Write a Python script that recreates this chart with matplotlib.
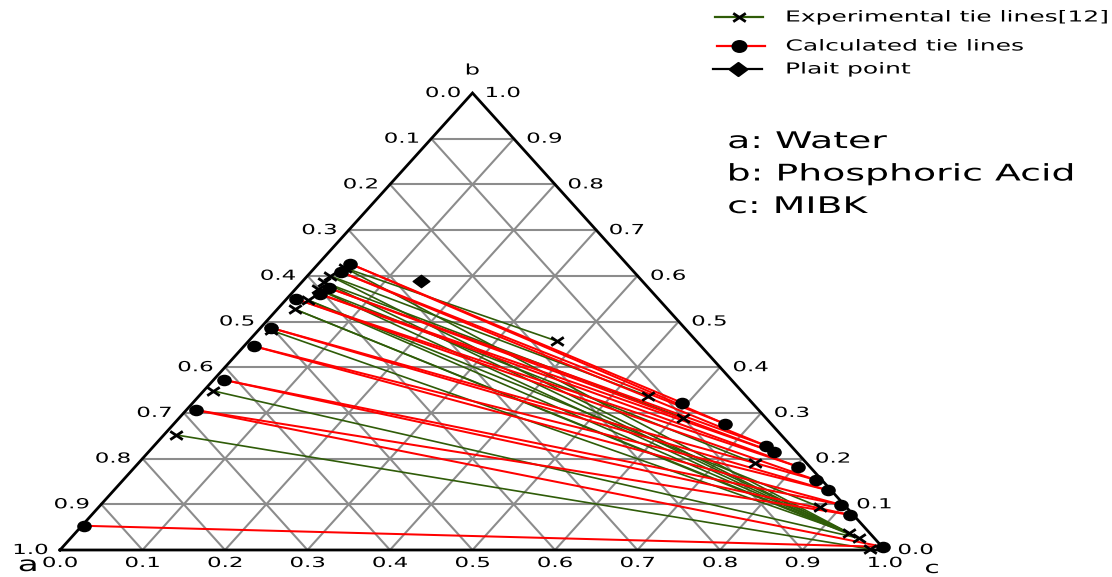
import numpy as np
import matplotlib
matplotlib.use('Agg')
import matplotlib.pyplot as plt
from matplotlib.lines import Line2D
from matplotlib.path import Path
from matplotlib.patheffects import AbstractPathEffect
from matplotlib.transforms import Affine2D

plt.rcParams['font.family'] = ['DejaVu Sans']

# compositions as mass fractions: acid = b (phosphoric acid), mibk = c, water a = 1 - b - c
# calculated tie lines, raffinate (water rich) and extract (MIBK rich) ends
calc_raff_acid = [0.626, 0.608, 0.573, 0.560, 0.549, 0.486, 0.446, 0.372, 0.306, 0.053]
calc_raff_mibk = [0.039, 0.037, 0.040, 0.035, 0.012, 0.013, 0.012, 0.013, 0.012, 0.002]
calc_ext_acid = [0.322, 0.276, 0.228, 0.214, 0.182, 0.153, 0.131, 0.099, 0.077, 0.007]
calc_ext_mibk = [0.593, 0.668, 0.742, 0.758, 0.804, 0.840, 0.865, 0.897, 0.919, 0.994]
calc_tie_raff = [0, 0, 1, 1, 2, 2, 3, 3, 4, 4, 5, 5, 6, 6, 7, 7, 8, 8, 9]
calc_tie_ext = [0, 1, 1, 2, 2, 3, 3, 4, 4, 5, 5, 6, 6, 7, 7, 8, 8, 9, 9]

# experimental tie lines [12]
exp_raff_acid = [0.617, 0.600, 0.586, 0.571, 0.547, 0.527, 0.481, 0.348, 0.252]
exp_raff_mibk = [0.037, 0.027, 0.027, 0.027, 0.027, 0.021, 0.015, 0.012, 0.014]
exp_ext_acid = [0.457, 0.337, 0.289, 0.190, 0.094, 0.037, 0.026, 0.002]
exp_ext_mibk = [0.374, 0.544, 0.611, 0.747, 0.874, 0.938, 0.955, 0.981]
exp_tie_raff = [0, 0, 1, 1, 2, 2, 3, 3, 4, 4, 5, 5, 6, 7, 8]
exp_tie_ext = [0, 5, 1, 6, 2, 5, 3, 6, 4, 5, 5, 6, 5, 6, 7]

plait_acid = [0.589]
plait_mibk = [0.143]

tick_vals = [0.0, 0.1, 0.2, 0.3, 0.4, 0.5, 0.6, 0.7, 0.8, 0.9, 1.0]
tick_labels = ['0.0', '0.1', '0.2', '0.3', '0.4', '0.5', '0.6', '0.7', '0.8', '0.9', '1.0']
legend_labels = ['Experimental tie lines[12]', 'Calculated tie lines', 'Plait point']
component_labels = ['a: Water', 'b: Phosphoric Acid', 'c: MIBK']

GREEN = '#2f5c08'
RED = '#ff0000'
GRID = '#8c8c8c'
W, H = 1112, 577
SX = 1.65


class Widen(AbstractPathEffect):
    """draw text paths stretched sideways"""
    def __init__(self, sx=SX, anchor='center'):
        super().__init__()
        self.sx = sx
        self.anchor = anchor

    def draw_path(self, renderer, gc, tpath, affine, rgbFace=None):
        ext = tpath.get_extents()
        if self.anchor == 'left':
            x0 = ext.x0
        elif self.anchor == 'right':
            x0 = ext.x1
        else:
            x0 = (ext.x0 + ext.x1) / 2
        widen = Affine2D().translate(-x0, 0).scale(self.sx, 1).translate(x0, 0)
        renderer.draw_path(gc, tpath, widen + affine, rgbFace)


def wide(anchor):
    return [Widen(SX, anchor)]


def to_xy(acid, mibk):
    acid = np.asarray(acid)
    mibk = np.asarray(mibk)
    return mibk + acid / 2, acid


# flattened marker shapes
x_mark = Path([(-1.5, -1), (1.5, 1), (-1.5, 1), (1.5, -1)],
              [Path.MOVETO, Path.LINETO, Path.MOVETO, Path.LINETO])
o_mark = Path.unit_circle().transformed(Affine2D().scale(1.3, 1))
d_mark = Path([(0, 1), (1.35, 0), (0, -1), (-1.35, 0), (0, 1)],
              [Path.MOVETO, Path.LINETO, Path.LINETO, Path.LINETO, Path.CLOSEPOLY])

fig = plt.figure(figsize=(W / 100, H / 100), dpi=100)
ax = fig.add_axes([60 / W, 27 / H, 825 / W, 457 / H])
ax.set_xlim(0, 1)
ax.set_ylim(0, 1)
ax.axis('off')

# grid lines of constant a, b and c
for v in tick_vals[1:-1]:
    ax.plot([v / 2, 1 - v / 2], [v, v], color=GRID, lw=1.5, zorder=1)
    ax.plot([v, v + (1 - v) / 2], [0, 1 - v], color=GRID, lw=1.5, zorder=1)
    ax.plot([1 - v, (1 - v) / 2], [0, 1 - v], color=GRID, lw=1.5, zorder=1)
ax.plot([0, 1, 0.5, 0], [0, 0, 1, 0], color='black', lw=2.0, zorder=2,
        solid_joinstyle='miter', clip_on=False)

# tie lines
ex_rx, ex_ry = to_xy(exp_raff_acid, exp_raff_mibk)
ex_ex, ex_ey = to_xy(exp_ext_acid, exp_ext_mibk)
for i, j in zip(exp_tie_raff, exp_tie_ext):
    ax.plot([ex_rx[i], ex_ex[j]], [ex_ry[i], ex_ey[j]], color=GREEN, lw=1.2, zorder=3)

ca_rx, ca_ry = to_xy(calc_raff_acid, calc_raff_mibk)
ca_ex, ca_ey = to_xy(calc_ext_acid, calc_ext_mibk)
for i, j in zip(calc_tie_raff, calc_tie_ext):
    ax.plot([ca_rx[i], ca_ex[j]], [ca_ry[i], ca_ey[j]], color=RED, lw=1.45, zorder=4)

ax.plot(np.r_[ca_rx, ca_ex], np.r_[ca_ry, ca_ey], ls='none', marker=o_mark, ms=9.5,
        color='black', zorder=5, clip_on=False)
ax.plot(np.r_[ex_rx, ex_ex], np.r_[ex_ry, ex_ey], ls='none', marker=x_mark, ms=9,
        mew=2.0, color='black', zorder=6, clip_on=False)
px, py = to_xy(plait_acid, plait_mibk)
ax.plot(px, py, ls='none', marker=d_mark, ms=12, color='black', zorder=6)

# axis numbers
for v, lab in zip(tick_vals, tick_labels):
    ax.annotate(lab, xy=(v, 0), xytext=(0, -13), textcoords='offset pixels',
                ha='center', va='center', fontsize=10, path_effects=wide('center'))
    ax.annotate(tick_labels[10 - tick_vals.index(v)], xy=(v / 2, v), xytext=(-12, 0),
                textcoords='offset pixels', ha='right', va='center', fontsize=10,
                path_effects=wide('right'))
    ax.annotate(lab, xy=(1 - v / 2, v), xytext=(13, 0), textcoords='offset pixels',
                ha='left', va='center', fontsize=10, path_effects=wide('left'))

ax.annotate('a', xy=(0, 0), xytext=(-32, -15), textcoords='offset pixels',
            ha='center', va='center', fontsize=15, path_effects=wide('center'))
ax.annotate('b', xy=(0.5, 1), xytext=(0, 23), textcoords='offset pixels',
            ha='center', va='center', fontsize=10.5, path_effects=wide('center'))
ax.annotate('c', xy=(1, 0), xytext=(47, -18), textcoords='offset pixels',
            ha='center', va='center', fontsize=12, path_effects=wide('center'))

# legend, drawn by hand
leg_rows = [(GREEN, x_mark, 9, 17, 715, 763, 739),
            (RED, o_mark, 9.5, 46, 717, 765, 739),
            ('black', d_mark, 12, 69, 713, 762, 738)]
for (col, mk, ms, y, x0, x1, xm), lab in zip(leg_rows, legend_labels):
    fy = 1 - y / H
    fig.add_artist(Line2D([x0 / W, x1 / W], [fy, fy], color=col, lw=1.6,
                          transform=fig.transFigure))
    fig.add_artist(Line2D([xm / W], [fy], ls='none', marker=mk, ms=ms, mew=2.0,
                          color='black', transform=fig.transFigure))
    fig.text(786 / W, fy, lab, ha='left', va='center', fontsize=10.9,
             path_effects=wide('left'))

for k, lab in enumerate(component_labels):
    fig.text(728 / W, 1 - (148 + 32.5 * k) / H, lab, ha='left', va='baseline',
             fontsize=16.5, path_effects=wide('left'))

fig.savefig('out.png', dpi=100)
